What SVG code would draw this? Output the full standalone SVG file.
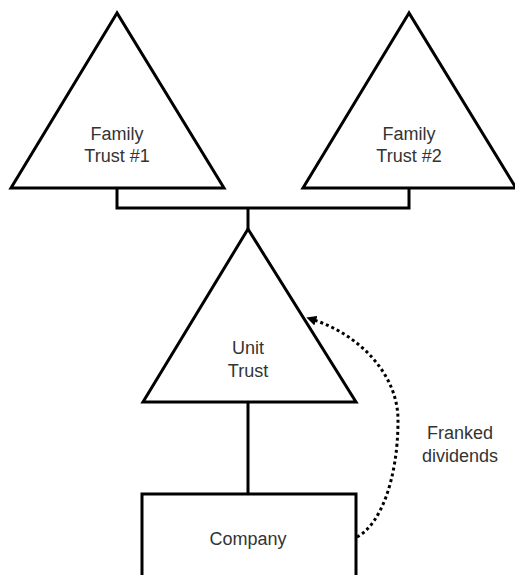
<svg xmlns="http://www.w3.org/2000/svg" width="515" height="575" viewBox="0 0 515 575">
<style>
.shape{fill:#ffffff;stroke:#000000;stroke-width:3;stroke-linejoin:miter}
.conn{fill:none;stroke:#000000;stroke-width:3}
.dot{fill:none;stroke:#000000;stroke-width:3;stroke-dasharray:3 3}
text{font-family:"Liberation Sans",Arial,sans-serif;font-size:18px;fill:#333333;text-anchor:middle}
</style>
<defs>
<marker id="arr" markerWidth="10" markerHeight="10" refX="2" refY="5" orient="auto" markerUnits="userSpaceOnUse" viewBox="0 0 10 10">
<path d="M0,5 L10,0 L10,10 Z" fill="#000000" transform="rotate(180 5 5)"/>
</marker>
</defs>
<rect width="515" height="575" fill="#ffffff"/>
<g id="connectors">
<path class="conn" d="M117,188 V208 H409 V188"/>
<path class="conn" d="M248,208 V229"/>
<path class="conn" d="M248,402 V494"/>
<path class="dot" d="M357,537 C380,525 398,480 398,420 C398,375 360,335 314,320" marker-end="url(#arr)"/>
</g>
<g id="family-trust-1">
<polygon class="shape" points="117,13 11,188 224,188"/>
<text x="117" y="140">Family</text>
<text x="117" y="162">Trust #1</text>
</g>
<g id="family-trust-2">
<polygon class="shape" points="409,13 303,188 516,188"/>
<text x="409" y="140">Family</text>
<text x="409" y="162">Trust #2</text>
</g>
<g id="unit-trust">
<polygon class="shape" points="248,229 143,402 356,402"/>
<text x="248" y="354">Unit</text>
<text x="248" y="377">Trust</text>
</g>
<g id="company">
<rect class="shape" x="142" y="494" width="214" height="90"/>
<text x="248" y="545">Company</text>
</g>
<g id="label-franked">
<text x="460" y="439">Franked</text>
<text x="460" y="462">dividends</text>
</g>
</svg>
